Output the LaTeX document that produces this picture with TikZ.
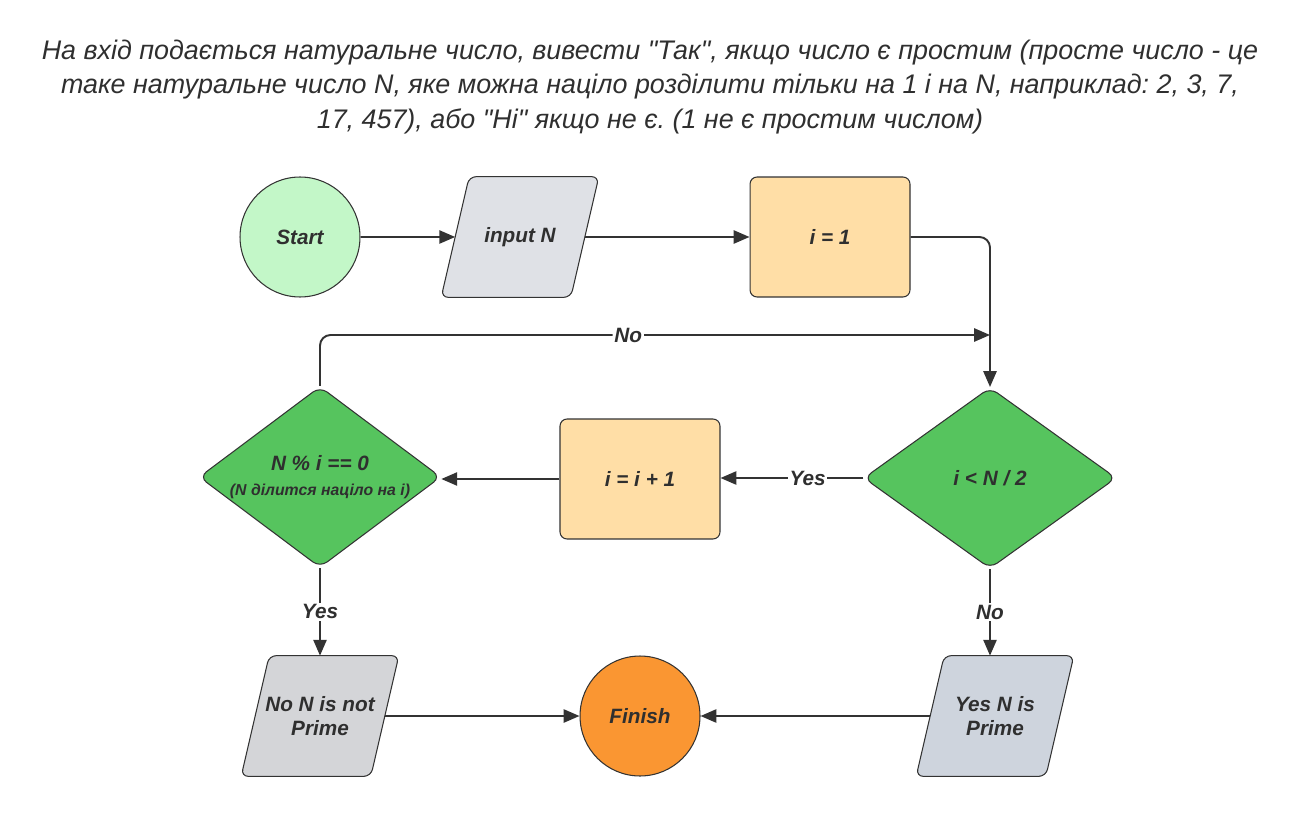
\documentclass[tikz,border=0pt]{standalone}
\usepackage{fontspec}
\setmainfont{Liberation Sans}[Ligatures=TeXOff]
\usepackage{tikz}
\usetikzlibrary{shapes.geometric, arrows.meta, backgrounds}

\definecolor{linegray}{HTML}{333333}
\definecolor{textgray}{HTML}{2F2F2F}
\definecolor{startgreen}{HTML}{C3F7C8}
\definecolor{inputgray}{HTML}{DFE1E6}
\definecolor{procorange}{HTML}{FFDEA6}
\definecolor{decgreen}{HTML}{56C45E}
\definecolor{nogray}{HTML}{D4D5D8}
\definecolor{yesgray}{HTML}{CED4DD}
\definecolor{finishorange}{HTML}{FA9632}

\begin{document}
\frenchspacing
\begin{tikzpicture}[x=0.02cm, y=-0.02cm,
        every node/.style = {text=textgray, font=\bfseries\itshape\fontsize{11.8}{13.6}\selectfont},
        terminal/.style = {draw=linegray, line width=0.6pt, circle, minimum size=2.4cm, inner sep=0pt},
        io/.style = {rectangle, minimum width=2.58cm, minimum height=2.4cm, align=center, inner sep=0pt},
        process/.style = {draw=linegray, line width=0.6pt, rectangle, rounded corners=4pt,
                          minimum width=3.2cm, minimum height=2.4cm},
        decision/.style = {draw=linegray, line width=0.6pt, diamond, aspect=1.4, minimum width=5.05cm,
                           minimum height=3.62cm, rounded corners=5pt, align=center, inner sep=0pt},
        flow/.style = {draw=linegray, line width=1.1pt, -{Stealth[length=9pt, width=7.5pt, inset=0pt]}},
        lbl/.style = {fill=white, inner sep=1pt}
    ]
    \useasboundingbox (0,0) rectangle (1300,817);

    \node (title) at (650,87) [font=\itshape\fontsize{15.3}{19.6}\selectfont, align=center]
        {На вхід подається натуральне число, вивести "Так", якщо число є простим (просте число - це\\
         таке натуральне число N, яке можна націло розділити тільки на 1 і на N, наприклад: 2, 3, 7,\\
         17, 457), або "Ні" якщо не є. (1 не є простим числом)};

    % top row
    \node (start) at (300,237) [terminal, fill=startgreen] {Start};
    \node (input) at (520,237) [io] {input N};
    \node (init) at (830,237) [process, fill=procorange] {i = 1};

    % loop row
    \node (cond) at (990,478) [decision, fill=decgreen] {i < N / 2};
    \node (inc) at (640,479) [process, fill=procorange] {i = i + 1};
    \node (div) at (320,477) [decision, fill=decgreen, minimum width=4.82cm]
        {N \% i == 0\\[1pt]{\fontsize{9}{10}\selectfont (N ділится націло на i)}};

    % bottom row
    \node (notprime) at (320,716) [io] {No N is not\\Prime};
    \node (finish) at (640,716) [terminal, fill=finishorange] {Finish};
    \node (prime) at (995,716) [io] {Yes N is\\Prime};

    % slanted boxes behind the io nodes
    \begin{scope}[on background layer]
        \foreach \n/\c in {input/inputgray, notprime/nogray, prime/yesgray}
            \draw[draw=linegray, line width=0.6pt, fill=\c, rounded corners=4pt]
                ([xshift=-0.28cm]\n.south west) -- ([xshift=-0.28cm]\n.south east)
                -- ([xshift=0.28cm]\n.north east) -- ([xshift=0.28cm]\n.north west) -- cycle;
    \end{scope}

    \coordinate (merge) at (990,335);

    \draw[flow] (start) -- (input);
    \draw[flow] (input) -- (init);
    \draw[flow, rounded corners=6pt] (init.east) -| (cond.north);
    \draw[flow, rounded corners=6pt] (div.north) |- node[lbl, pos=0.73] {No} (merge);
    \draw[flow] (cond.west) -- node[lbl, pos=0.39] {Yes} (inc.east |- cond.west);
    \draw[flow] (inc.west) -- (div.east |- inc.west);
    \draw[flow] (div.south) -- node[lbl] {Yes} (div.south |- notprime.north);
    \draw[flow] (cond.south) -- node[lbl] {No} (cond.south |- prime.north);
    \draw[flow] (notprime) -- (finish);
    \draw[flow] (prime) -- (finish);
\end{tikzpicture}
\end{document}
